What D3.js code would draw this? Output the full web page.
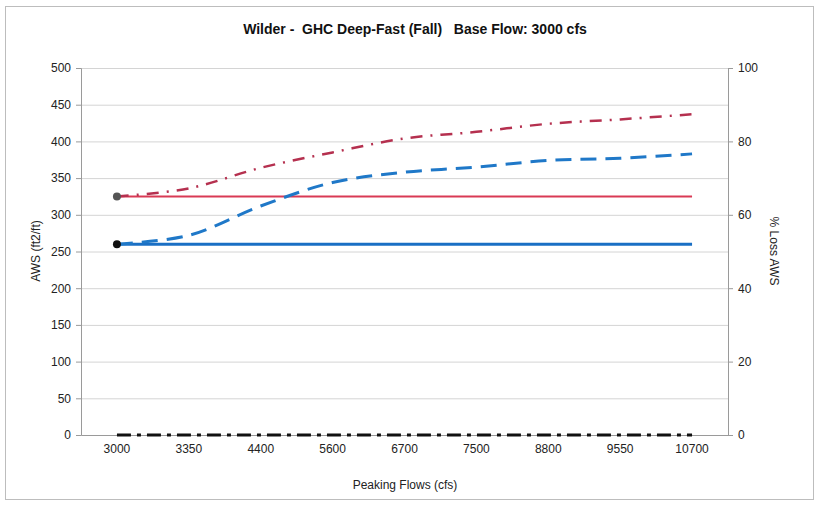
<!DOCTYPE html>
<html lang="en">
<head>
  <meta charset="UTF-8" />
  <title>Wilder - GHC Deep-Fast (Fall)</title>
  <script src="https://d3js.org/d3.v7.min.js"></script>
  <style>
    body {
      margin: 0;
      background: #ffffff;
      font-family: 'Liberation Sans', Arial, sans-serif;
    }
    svg { display: block; }
    .tick text { font-size: 12px; fill: #222; }
  </style>
</head>
<body>
  <svg width="820" height="505"></svg>

  <script>
    // peaking flow categories (cfs)
    const flows = ["3000", "3350", "4400", "5600", "6700", "7500", "8800", "9550", "10700"];

    // AWS (ft2/ft) series
    const baseRed   = [325, 325, 325, 325, 325, 325, 325, 325, 325];
    const peakRed   = [325, 336, 364, 385, 404, 413, 424, 430, 437];
    const baseBlue  = [260, 260, 260, 260, 260, 260, 260, 260, 260];
    const peakBlue  = [260, 272, 312, 344, 358, 365, 374, 377, 383];

    // % loss AWS (right axis)
    const lossPct   = [0, 0, 0, 0, 0, 0, 0, 0, 0];

    const leftTicks  = [0, 50, 100, 150, 200, 250, 300, 350, 400, 450, 500];
    const rightTicks = [0, 20, 40, 60, 80, 100];

    const svg = d3.select("svg");
    const margin = { top: 68, right: 92, bottom: 70, left: 81 };
    const width = 820, height = 505;
    const plotW = width - margin.left - margin.right;
    const plotH = height - margin.top - margin.bottom;

    // outer frame
    svg.append("rect")
      .attr("x", 5.5).attr("y", 6.5)
      .attr("width", 808).attr("height", 493)
      .attr("fill", "none")
      .attr("stroke", "#bdbdbd");

    const g = svg.append("g").attr("transform", `translate(${margin.left},${margin.top})`);

    const x = d3.scaleBand().domain(flows).range([0, plotW]);
    const y = d3.scaleLinear().domain([0, 500]).range([plotH, 0]);
    const y2 = d3.scaleLinear().domain([0, 100]).range([plotH, 0]);
    const cx = d => x(d) + x.bandwidth() / 2;

    // gridlines
    g.append("g")
      .selectAll("line")
      .data(leftTicks.filter(t => t > 0))
      .join("line")
      .attr("x1", 0).attr("x2", plotW)
      .attr("y1", d => y(d) + 0.5).attr("y2", d => y(d) + 0.5)
      .attr("stroke", "#d4d4d4");

    // left axis
    const yAxis = g.append("g")
      .call(d3.axisLeft(y).tickValues(leftTicks).tickSize(5).tickPadding(5));
    yAxis.select(".domain").attr("stroke", "#9a9a9a");
    yAxis.selectAll(".tick line").attr("stroke", "#9a9a9a");

    // right axis
    const yAxis2 = g.append("g")
      .attr("transform", `translate(${plotW},0)`)
      .call(d3.axisRight(y2).tickValues(rightTicks).tickSize(5).tickPadding(5));
    yAxis2.select(".domain").attr("stroke", "#9a9a9a");
    yAxis2.selectAll(".tick line").attr("stroke", "#9a9a9a");

    // x axis
    const xAxis = g.append("g")
      .attr("transform", `translate(0,${plotH})`)
      .call(d3.axisBottom(x).tickSize(0).tickPadding(9));
    xAxis.select(".domain").attr("stroke", "#9a9a9a");

    const line = d3.line()
      .x((d, i) => cx(flows[i]))
      .y(d => y(d))
      .curve(d3.curveCatmullRom.alpha(0.5));

    const line2 = d3.line()
      .x((d, i) => cx(flows[i]))
      .y(d => y2(d));

    // % loss series along zero
    g.append("path")
      .datum(lossPct)
      .attr("d", line2)
      .attr("fill", "none")
      .attr("stroke", "#111")
      .attr("stroke-width", 3)
      .attr("stroke-dasharray", "14,6,4,6");

    g.append("path")
      .datum(baseBlue)
      .attr("d", line)
      .attr("fill", "none")
      .attr("stroke", "#1a6fc4")
      .attr("stroke-width", 3);

    g.append("path")
      .datum(baseRed)
      .attr("d", line)
      .attr("fill", "none")
      .attr("stroke", "#d93a55")
      .attr("stroke-width", 2);

    g.append("path")
      .datum(peakBlue)
      .attr("d", line)
      .attr("fill", "none")
      .attr("stroke", "#1f78c8")
      .attr("stroke-width", 3)
      .attr("stroke-dasharray", "16,9");

    g.append("path")
      .datum(peakRed)
      .attr("d", line)
      .attr("fill", "none")
      .attr("stroke", "#b5304f")
      .attr("stroke-width", 2.5)
      .attr("stroke-dasharray", "12,8,2,8");

    // start markers
    g.append("circle")
      .attr("cx", cx(flows[0])).attr("cy", y(baseRed[0]))
      .attr("r", 4).attr("fill", "#555");
    g.append("circle")
      .attr("cx", cx(flows[0])).attr("cy", y(baseBlue[0]))
      .attr("r", 4).attr("fill", "#111");

    // titles
    svg.append("text")
      .attr("x", 415).attr("y", 34)
      .attr("text-anchor", "middle")
      .attr("font-size", 14)
      .attr("font-weight", "bold")
      .attr("fill", "#111")
      .attr("xml:space", "preserve")
      .text("Wilder -  GHC Deep-Fast (Fall)   Base Flow: 3000 cfs");

    svg.append("text")
      .attr("transform", "translate(40,251) rotate(-90)")
      .attr("text-anchor", "middle")
      .attr("font-size", 12)
      .attr("fill", "#222")
      .text("AWS (ft2/ft)");

    svg.append("text")
      .attr("transform", "translate(770,251) rotate(90)")
      .attr("text-anchor", "middle")
      .attr("font-size", 12)
      .attr("fill", "#222")
      .text("% Loss AWS");

    svg.append("text")
      .attr("x", 405).attr("y", 489)
      .attr("text-anchor", "middle")
      .attr("font-size", 12)
      .attr("fill", "#222")
      .text("Peaking Flows (cfs)");
  </script>
</body>
</html>
